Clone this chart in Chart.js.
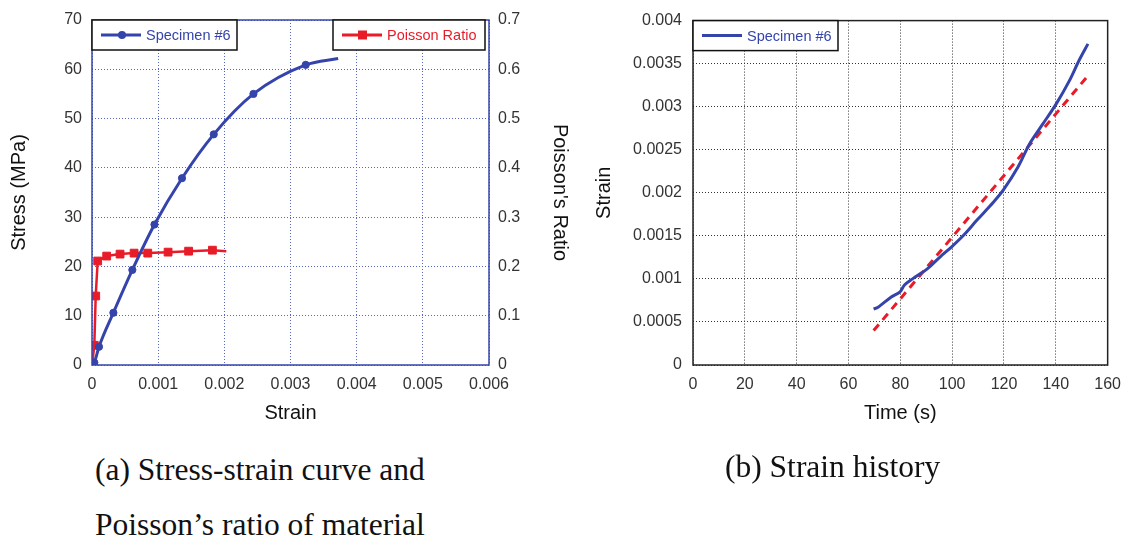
<!DOCTYPE html>
<html>
<head>
<meta charset="utf-8">
<script src="https://cdn.jsdelivr.net/npm/chart.js@4/dist/chart.umd.min.js"></script>
<style>
  body { margin: 0; background: #fff; width: 1131px; height: 540px; position: relative; overflow: hidden; }
  canvas { position: absolute; top: 0; }
  .cap { position: absolute; font-family: "Liberation Serif", "Times New Roman", serif; font-size: 31.5px; line-height: 55px; color: #111; white-space: nowrap; }
</style>
</head>
<body>
<canvas id="chartA" width="580" height="440" style="left:0"></canvas>
<canvas id="chartB" width="551" height="440" style="left:580px"></canvas>
<div class="cap" style="left:95px; top:442px">(a) Stress-strain curve and<br>Poisson’s ratio of material</div>
<div class="cap" style="left:725px; top:439px">(b) Strain history</div>
<script>
// (a) stress-strain, specimen #6
const stressStrain = [0, 0.000035, 0.000106, 0.000323, 0.00061, 0.000944, 0.00136, 0.00184, 0.00244, 0.00323, 0.00372];
const stressMPa = [0, 0.5, 3.7, 10.6, 19.3, 28.5, 37.9, 46.8, 55.0, 60.9, 62.2];

// (a) poisson ratio
const poissonStrain = [0.00001, 0.000035, 0.000056, 0.000086, 0.000222, 0.000424, 0.000636, 0.000843, 0.00115, 0.00146, 0.00182, 0.00203];
const poissonRatio = [0.01, 0.040, 0.14, 0.211, 0.221, 0.225, 0.227, 0.227, 0.229, 0.231, 0.233, 0.231];

// (b) strain history
const timeS = [69.7, 71.4, 76.5, 79.9, 81.6, 84.7, 90.5, 95.5, 99.7, 104.5, 109.5, 115.9, 119.7, 125.4, 129.9, 135, 140.1, 145.2, 149, 152.4];
const strainHist = [0.00065, 0.00067, 0.00079, 0.00085, 0.00093, 0.001, 0.00112, 0.00126, 0.00137, 0.00151, 0.00168, 0.00189, 0.00203, 0.0023, 0.00257, 0.0028, 0.00303, 0.0033, 0.00354, 0.00373];
const fitTime = [69.7, 152.4];
const fitStrain = [0.0004, 0.00336];

// tick labels
const strainTicks = ['0', '0.001', '0.002', '0.003', '0.004', '0.005', '0.006'];
const stressTicks = ['0', '10', '20', '30', '40', '50', '60', '70'];
const ratioTicks = ['0', '0.1', '0.2', '0.3', '0.4', '0.5', '0.6', '0.7'];
const timeTicks = ['0', '20', '40', '60', '80', '100', '120', '140', '160'];
const histTicks = ['0', '0.0005', '0.001', '0.0015', '0.002', '0.0025', '0.003', '0.0035', '0.004'];

const BLUE = 'rgb(52,68,170)';
const RED = 'rgb(232,28,40)';
const SANS = "'Liberation Sans', Arial, sans-serif";

const pts = (xs, ys) => xs.map((x, i) => ({ x: x, y: ys[i] }));
// markers everywhere except the last point (and the first, if asked)
const markerRadius = (n, skipFirst, r) => Array.from({ length: n }, (_, i) => (i === n - 1 || (skipFirst && i === 0)) ? 0 : r);

// frame + in-plot legend boxes
const framePlugin = {
  id: 'frame',
  afterDatasetsDraw(chart, args, opts) {
    const { ctx, chartArea: a } = chart;
    ctx.save();
    ctx.strokeStyle = opts.color;
    ctx.lineWidth = 1.5;
    ctx.strokeRect(a.left, a.top, a.right - a.left, a.bottom - a.top);
    (opts.legends || []).forEach(lg => {
      const x0 = lg.fromRight ? a.right - lg.offset - lg.w : a.left + lg.offset;
      const y0 = a.top, h = 30, my = y0 + h / 2;
      ctx.fillStyle = '#fff';
      ctx.fillRect(x0, y0, lg.w, h);
      ctx.strokeStyle = '#111';
      ctx.lineWidth = 1.5;
      ctx.strokeRect(x0, y0, lg.w, h);
      ctx.strokeStyle = lg.color;
      ctx.lineWidth = 3;
      ctx.beginPath();
      ctx.moveTo(x0 + 9, my);
      ctx.lineTo(x0 + 49, my);
      ctx.stroke();
      ctx.fillStyle = lg.color;
      if (lg.marker === 'circle') {
        ctx.beginPath();
        ctx.arc(x0 + 30, my, 4, 0, Math.PI * 2);
        ctx.fill();
      } else if (lg.marker === 'rect') {
        ctx.fillRect(x0 + 25, my - 4.5, 9, 9);
      }
      ctx.font = '14.5px ' + SANS;
      ctx.textBaseline = 'middle';
      ctx.fillText(lg.label, x0 + 54, my + 1);
    });
    ctx.restore();
  }
};

const fixWidth = w => s => { s.width = w; };
const fixHeight = h => s => { s.height = h; };
const tickFont = { family: SANS, size: 16 };
const titleFont = { family: SANS, size: 20 };

new Chart(document.getElementById('chartA'), {
  type: 'line',
  data: {
    datasets: [
      {
        label: 'Specimen #6',
        data: pts(stressStrain, stressMPa),
        borderColor: BLUE, backgroundColor: BLUE,
        borderWidth: 3, pointRadius: markerRadius(stressStrain.length, false, 3.6), pointBorderWidth: 1,
        pointStyle: 'circle', cubicInterpolationMode: 'monotone', yAxisID: 'y'
      },
      {
        label: 'Poisson Ratio',
        data: pts(poissonStrain, poissonRatio),
        borderColor: RED, backgroundColor: RED,
        borderWidth: 2.5, pointRadius: markerRadius(poissonStrain.length, true, 5.5), pointBorderWidth: 1,
        pointStyle: 'rect', tension: 0, yAxisID: 'y2'
      }
    ]
  },
  options: {
    responsive: false, animation: false, devicePixelRatio: 1,
    layout: { padding: { top: 20, left: 0, right: 0, bottom: 0 } },
    plugins: {
      legend: { display: false }, tooltip: { enabled: false },
      frame: {
        color: BLUE,
        legends: [
          { label: 'Specimen #6', color: BLUE, marker: 'circle', offset: 0, w: 145 },
          { label: 'Poisson Ratio', color: RED, marker: 'rect', offset: 4, w: 152, fromRight: true }
        ]
      }
    },
    scales: {
      x: {
        type: 'linear', min: 0, max: 0.006,
        afterFit: fixHeight(75),
        ticks: { stepSize: 0.001, autoSkip: false, maxRotation: 0, padding: 10, color: '#333', font: tickFont, callback: (v, i) => strainTicks[i] },
        grid: { color: '#5566c4', lineWidth: 1, drawTicks: false },
        border: { display: false, dash: [1, 2] },
        title: { display: true, text: 'Strain', color: '#111', font: titleFont, padding: { top: 0, bottom: 15 } }
      },
      y: {
        position: 'left', min: 0, max: 70,
        afterFit: fixWidth(92),
        ticks: { stepSize: 10, autoSkip: false, padding: 10, color: '#333', font: tickFont, callback: (v, i) => stressTicks[i] },
        grid: { color: '#5566c4', lineWidth: 1, drawTicks: false },
        border: { display: false, dash: [1, 2] },
        title: { display: true, text: 'Stress (MPa)', color: '#111', font: titleFont, padding: { top: 7, bottom: 0 } }
      },
      y2: {
        position: 'right', min: 0, max: 0.7,
        afterFit: fixWidth(91),
        ticks: { stepSize: 0.1, autoSkip: false, padding: 9, color: '#333', font: tickFont, callback: (v, i) => ratioTicks[i] },
        grid: { drawOnChartArea: false, drawTicks: false },
        border: { display: false },
        title: { display: true, text: "Poisson's Ratio", color: '#111', font: titleFont, padding: { top: 8, bottom: 0 } }
      }
    }
  },
  plugins: [framePlugin]
});

new Chart(document.getElementById('chartB'), {
  type: 'line',
  data: {
    datasets: [
      {
        label: 'Specimen #6',
        data: pts(timeS, strainHist),
        borderColor: BLUE, borderWidth: 3, pointRadius: 0, tension: 0.3
      },
      {
        label: 'fit',
        data: pts(fitTime, fitStrain),
        borderColor: RED, borderWidth: 3, borderDash: [8, 6], pointRadius: 0
      }
    ]
  },
  options: {
    responsive: false, animation: false, devicePixelRatio: 1,
    layout: { padding: { top: 20, left: 0, right: 19, bottom: 0 } },
    plugins: {
      legend: { display: false }, tooltip: { enabled: false },
      frame: {
        color: '#222',
        legends: [{ label: 'Specimen #6', color: BLUE, marker: null, offset: 0, w: 145 }]
      }
    },
    scales: {
      x: {
        type: 'linear', min: 0, max: 160,
        afterFit: fixHeight(75),
        ticks: { stepSize: 20, autoSkip: false, maxRotation: 0, padding: 10, color: '#333', font: tickFont, callback: (v, i) => timeTicks[i] },
        grid: { color: '#333', lineWidth: 1, drawTicks: false },
        border: { display: false, dash: [1, 2] },
        title: { display: true, text: 'Time (s)', color: '#111', font: titleFont, padding: { top: 0, bottom: 15 } }
      },
      y: {
        min: 0, max: 0.004,
        afterFit: fixWidth(113),
        ticks: { stepSize: 0.0005, autoSkip: false, padding: 11, color: '#333', font: tickFont, callback: (v, i) => histTicks[i] },
        grid: { color: '#333', lineWidth: 1, drawTicks: false },
        border: { display: false, dash: [1, 2] },
        title: { display: true, text: 'Strain', color: '#111', font: titleFont, padding: { top: 12, bottom: 0 } }
      }
    }
  },
  plugins: [framePlugin]
});
</script>
</body>
</html>
